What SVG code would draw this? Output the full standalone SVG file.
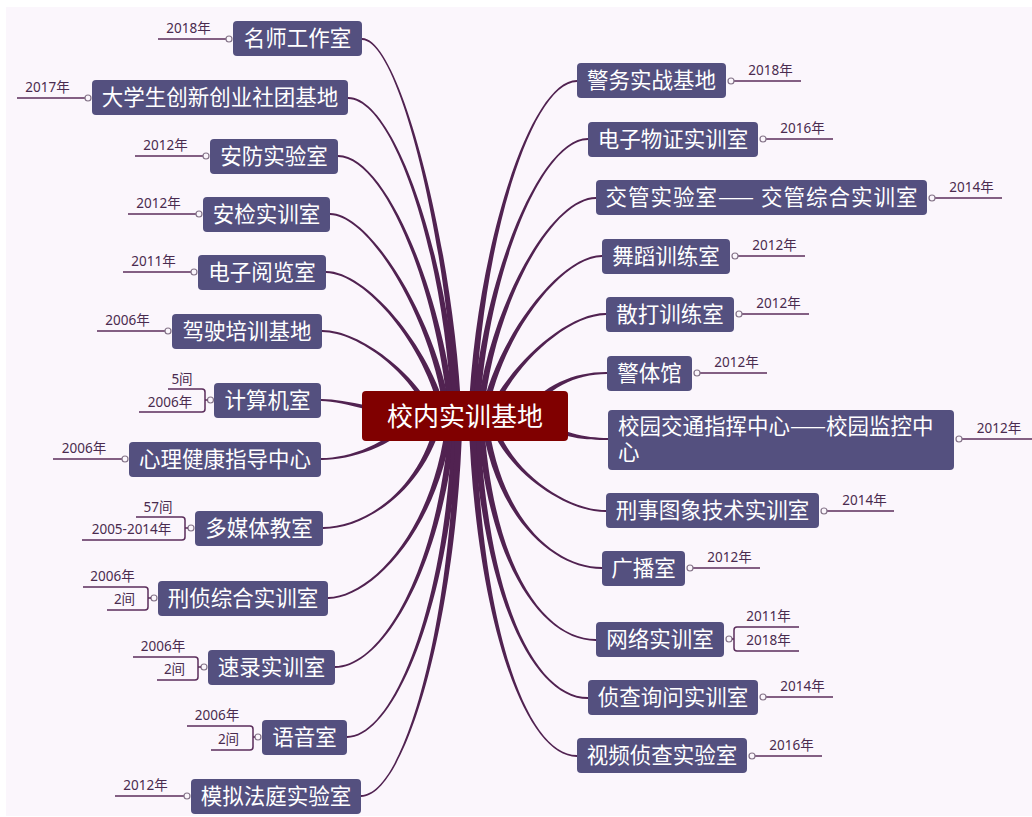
<svg xmlns="http://www.w3.org/2000/svg" width="1032" height="817" viewBox="0 0 1032 817">
<style>
.br{fill:#512251}
.nd{fill:#54507f}
.ct{fill:#800000}
.nt{font-family:"Noto Sans CJK SC","Noto Sans",sans-serif;font-size:21.5px;fill:#ffffff;text-anchor:middle}
.tt{font-family:"Noto Sans CJK SC","Noto Sans",sans-serif;font-size:21.5px;fill:#ffffff}
.cx{font-family:"Noto Sans CJK SC","Noto Sans",sans-serif;font-size:26px;fill:#ffffff;text-anchor:middle}
.dt{font-family:"Noto Sans","Noto Sans CJK SC",sans-serif;font-size:13.5px;fill:#4a2b4f;text-anchor:middle}
.ul{stroke:#5b2d5b;stroke-width:1.5;fill:none}
.dot{fill:#fbf6fc;stroke:#857489;stroke-width:1.2}
</style>
<rect x="0" y="0" width="1032" height="817" fill="#ffffff"/>
<rect x="6" y="7" width="1026" height="809" fill="#fbf6fc"/>
<g id="connectors">
<path class="br" d="M454.5,416 C449.5,250 400,40.2 362,39.9 L362,38.1 C400,37.8 454.5,250 461.5,416 Z"/>
<path class="br" d="M451.5,416 C445.5,260 395,99.2 348,98.9 L348,97.1 C395,96.8 450.5,260 458.5,416 Z"/>
<path class="br" d="M448.5,416 C437.5,290 385,157.2 338,156.9 L338,155.1 C385,154.8 442.5,290 455.5,416 Z"/>
<path class="br" d="M444.5,416 C432.5,320 370,215.2 330,214.9 L330,213.1 C370,212.8 437.5,320 451.5,416 Z"/>
<path class="br" d="M440.5,416 C425.5,345 365,273.2 326,272.9 L326,271.1 C365,270.8 430.5,345 447.5,416 Z"/>
<path class="br" d="M428.5,416 C412.5,375 360,332.2 322,331.9 L322,330.1 C360,329.8 417.5,375 435.5,416 Z"/>
<path class="br" d="M420,419.5 C385,416.5 345,401.3 321,401 L321,399 C345,398.7 385,411.5 420,412.5 Z"/>
<path class="br" d="M417.7,418.3 C391.9,447.6 350,460.2 321,459.9 L321,458.1 C350,457.8 388.1,444.4 412.3,413.7 Z"/>
<path class="br" d="M443.5,416 C426.5,490 365,529.2 323,528.9 L323,527.1 C365,526.8 421.5,490 436.5,416 Z"/>
<path class="br" d="M453.5,416 C440.5,530 370,599.2 328,598.9 L328,597.1 C370,596.8 435.5,530 446.5,416 Z"/>
<path class="br" d="M456.5,416 C445.5,560 385,668.2 335,667.9 L335,666.1 C385,665.8 440.5,560 449.5,416 Z"/>
<path class="br" d="M459.5,416 C452.5,600 395,738.2 347,737.9 L347,736.1 C395,735.8 447.5,600 452.5,416 Z"/>
<path class="br" d="M462.5,416 C457.5,620 405,797.2 361,796.9 L361,795.1 C405,794.8 452.5,620 455.5,416 Z"/>
<path class="br" d="M468.5,416 C475.5,250 530,79.8 577,80.1 L577,81.9 C530,82.2 480.5,250 475.5,416 Z"/>
<path class="br" d="M472.5,416 C481.5,280 540,137.8 588,138.1 L588,139.9 C540,140.2 486.5,280 479.5,416 Z"/>
<path class="br" d="M476.5,416 C487.5,310 550,196.8 596,197.1 L596,198.9 C550,199.2 492.5,310 483.5,416 Z"/>
<path class="br" d="M480.5,416 C494.5,340 560,254.8 602,255.1 L602,256.9 C560,257.2 499.5,340 487.5,416 Z"/>
<path class="br" d="M486.5,416 C504.5,370 565,312.8 606,313.1 L606,314.9 C565,315.2 509.5,370 493.5,416 Z"/>
<path class="br" d="M522.1,414 C542.95,384.6 575,371.8 607,372.1 L607,373.9 C575,374.2 547.05,387.4 527.9,418 Z"/>
<path class="br" d="M531.9,413.1 C561.4,433.9 585,437.8 608,438.1 L608,439.9 C585,440.2 558.6,438.1 528.1,418.9 Z"/>
<path class="br" d="M493.5,416 C507.5,470 565,509.8 606,510.1 L606,511.9 C565,512.2 502.5,470 486.5,416 Z"/>
<path class="br" d="M487.5,416 C499.5,520 555,566.8 602,567.1 L602,568.9 C555,569.2 494.5,520 480.5,416 Z"/>
<path class="br" d="M483.5,416 C492.5,570 545,638.8 596,639.1 L596,640.9 C545,641.2 487.5,570 476.5,416 Z"/>
<path class="br" d="M479.5,416 C486.5,600 535,696.8 588,697.1 L588,698.9 C535,699.2 481.5,600 472.5,416 Z"/>
<path class="br" d="M475.5,416 C480.5,620 525,754.8 577,755.1 L577,756.9 C525,757.2 475.5,620 468.5,416 Z"/>
</g>
<g id="center">
<rect class="ct" x="362" y="391" width="206" height="50" rx="4"/>
<text class="cx" x="465" y="426">校内实训基地</text>
</g>
<g id="n-mingshi">
<rect class="nd" x="233" y="21" width="129" height="35" rx="4"/>
<text class="nt" x="297.5" y="46">名师工作室</text>
<line class="ul" x1="158" y1="39" x2="226" y2="39"/><circle class="dot" cx="229" cy="39" r="3"/>
<text class="dt" x="188.5" y="33">2018年</text>
</g>
<g id="n-daxuesheng">
<rect class="nd" x="92" y="80" width="256" height="35" rx="4"/>
<text class="nt" x="220" y="105">大学生创新创业社团基地</text>
<line class="ul" x1="17" y1="98" x2="85" y2="98"/><circle class="dot" cx="88" cy="98" r="3"/>
<text class="dt" x="47.5" y="92">2017年</text>
</g>
<g id="n-anfang">
<rect class="nd" x="210" y="139" width="128" height="35" rx="4"/>
<text class="nt" x="274" y="164">安防实验室</text>
<line class="ul" x1="135" y1="156" x2="203" y2="156"/><circle class="dot" cx="206" cy="156" r="3"/>
<text class="dt" x="165.5" y="150">2012年</text>
</g>
<g id="n-anjian">
<rect class="nd" x="203" y="197" width="127" height="35" rx="4"/>
<text class="nt" x="266.5" y="222">安检实训室</text>
<line class="ul" x1="128" y1="214" x2="196" y2="214"/><circle class="dot" cx="199" cy="214" r="3"/>
<text class="dt" x="158.5" y="208">2012年</text>
</g>
<g id="n-yuelan">
<rect class="nd" x="198" y="255" width="128" height="35" rx="4"/>
<text class="nt" x="262" y="280">电子阅览室</text>
<line class="ul" x1="123" y1="272" x2="191" y2="272"/><circle class="dot" cx="194" cy="272" r="3"/>
<text class="dt" x="153.5" y="266">2011年</text>
</g>
<g id="n-jiashi">
<rect class="nd" x="172" y="314" width="150" height="35" rx="4"/>
<text class="nt" x="247" y="339">驾驶培训基地</text>
<line class="ul" x1="97" y1="331" x2="165" y2="331"/><circle class="dot" cx="168" cy="331" r="3"/>
<text class="dt" x="127.5" y="325">2006年</text>
</g>
<g id="n-jisuanji">
<rect class="nd" x="214" y="383" width="107" height="35" rx="4"/>
<text class="nt" x="267.5" y="408">计算机室</text>
<circle class="dot" cx="210.5" cy="400" r="3"/>
<path class="ul" d="M207.5,400 H205 M168,389 H202 Q205,389 205,392 V409 Q205,412 202,412 H139"/>
<text class="dt" x="182" y="384">5间</text>
<text class="dt" x="170" y="407">2006年</text>
</g>
<g id="n-xinli">
<rect class="nd" x="129" y="442" width="192" height="35" rx="4"/>
<text class="nt" x="225" y="467">心理健康指导中心</text>
<line class="ul" x1="53" y1="459" x2="122" y2="459"/><circle class="dot" cx="125" cy="459" r="3"/>
<text class="dt" x="84" y="453">2006年</text>
</g>
<g id="n-duomeiti">
<rect class="nd" x="195" y="511" width="128" height="35" rx="4"/>
<text class="nt" x="259" y="536">多媒体教室</text>
<circle class="dot" cx="191" cy="528" r="3"/>
<path class="ul" d="M188,528 H185 M136,517 H182 Q185,517 185,520 V537 Q185,540 182,540 H82"/>
<text class="dt" x="158" y="512">57间</text>
<text class="dt" x="131.5" y="534">2005-2014年</text>
</g>
<g id="n-xingzhen">
<rect class="nd" x="158" y="581" width="170" height="35" rx="4"/>
<text class="nt" x="243" y="606">刑侦综合实训室</text>
<circle class="dot" cx="154" cy="598" r="3"/>
<path class="ul" d="M151,598 H148 M83,587 H145 Q148,587 148,590 V607 Q148,610 145,610 H107"/>
<text class="dt" x="112.5" y="581">2006年</text>
<text class="dt" x="124.5" y="604">2间</text>
</g>
<g id="n-sulu">
<rect class="nd" x="208" y="650" width="127" height="35" rx="4"/>
<text class="nt" x="271.5" y="675">速录实训室</text>
<circle class="dot" cx="204" cy="667" r="3"/>
<path class="ul" d="M201,667 H198 M133,657 H195 Q198,657 198,660 V677 Q198,680 195,680 H157"/>
<text class="dt" x="163" y="651">2006年</text>
<text class="dt" x="174.5" y="674">2间</text>
</g>
<g id="n-yuyin">
<rect class="nd" x="262" y="720" width="85" height="35" rx="4"/>
<text class="nt" x="304.5" y="745">语音室</text>
<circle class="dot" cx="258" cy="737" r="3"/>
<path class="ul" d="M255,737 H253 M187,726 H250 Q253,726 253,729 V747 Q253,750 250,750 H211"/>
<text class="dt" x="217" y="720">2006年</text>
<text class="dt" x="228.5" y="744">2间</text>
</g>
<g id="n-moni">
<rect class="nd" x="191" y="779" width="170" height="35" rx="4"/>
<text class="nt" x="276" y="804">模拟法庭实验室</text>
<line class="ul" x1="115" y1="796" x2="184" y2="796"/><circle class="dot" cx="187" cy="796" r="3"/>
<text class="dt" x="145.5" y="790">2012年</text>
</g>
<g id="n-jingwu">
<rect class="nd" x="577" y="63" width="149" height="35" rx="4"/>
<text class="nt" x="651.5" y="88">警务实战基地</text>
<line class="ul" x1="734" y1="81" x2="801" y2="81"/><circle class="dot" cx="731" cy="81" r="3"/>
<text class="dt" x="770.5" y="75">2018年</text>
</g>
<g id="n-wuzheng">
<rect class="nd" x="588" y="122" width="170" height="35" rx="4"/>
<text class="nt" x="673" y="147">电子物证实训室</text>
<line class="ul" x1="766" y1="139" x2="833" y2="139"/><circle class="dot" cx="763" cy="139" r="3"/>
<text class="dt" x="802.5" y="133">2016年</text>
</g>
<g id="n-jiaoguan">
<rect class="nd" x="596" y="180" width="331" height="35" rx="4"/>
<text class="nt" x="761.5" y="205" textLength="312" lengthAdjust="spacing">交管实验室—— 交管综合实训室</text>
<line class="ul" x1="935" y1="198" x2="1002" y2="198"/><circle class="dot" cx="932" cy="198" r="3"/>
<text class="dt" x="971.5" y="192">2014年</text>
</g>
<g id="n-wudao">
<rect class="nd" x="602" y="239" width="128" height="35" rx="4"/>
<text class="nt" x="666" y="264">舞蹈训练室</text>
<line class="ul" x1="738" y1="256" x2="805" y2="256"/><circle class="dot" cx="735" cy="256" r="3"/>
<text class="dt" x="774.5" y="250">2012年</text>
</g>
<g id="n-sanda">
<rect class="nd" x="606" y="297" width="128" height="35" rx="4"/>
<text class="nt" x="670" y="322">散打训练室</text>
<line class="ul" x1="742" y1="314" x2="809" y2="314"/><circle class="dot" cx="739" cy="314" r="3"/>
<text class="dt" x="778.5" y="308">2012年</text>
</g>
<g id="n-jingti">
<rect class="nd" x="607" y="356" width="85" height="35" rx="4"/>
<text class="nt" x="649.5" y="381">警体馆</text>
<line class="ul" x1="700" y1="373" x2="767" y2="373"/><circle class="dot" cx="697" cy="373" r="3"/>
<text class="dt" x="736.5" y="367">2012年</text>
</g>
<g id="n-xiaoyuan">
<rect class="nd" x="608" y="410" width="346" height="60" rx="4"/>
<text class="tt" x="618" y="434">校园交通指挥中心——校园监控中<tspan x="618" y="460">心</tspan></text>
<line class="ul" x1="962" y1="439" x2="1032" y2="439"/><circle class="dot" cx="959" cy="439" r="3"/>
<text class="dt" x="999" y="433">2012年</text>
</g>
<g id="n-tuxiang">
<rect class="nd" x="606" y="493" width="213" height="35" rx="4"/>
<text class="nt" x="712.5" y="518">刑事图象技术实训室</text>
<line class="ul" x1="827" y1="511" x2="894" y2="511"/><circle class="dot" cx="824" cy="511" r="3"/>
<text class="dt" x="864.5" y="505">2014年</text>
</g>
<g id="n-guangbo">
<rect class="nd" x="602" y="551" width="83" height="35" rx="4"/>
<text class="nt" x="643.5" y="576">广播室</text>
<line class="ul" x1="693" y1="568" x2="760" y2="568"/><circle class="dot" cx="690" cy="568" r="3"/>
<text class="dt" x="729.5" y="562">2012年</text>
</g>
<g id="n-wangluo">
<rect class="nd" x="596" y="622" width="128" height="35" rx="4"/>
<text class="nt" x="660" y="647">网络实训室</text>
<circle class="dot" cx="729" cy="639" r="3"/>
<path class="ul" d="M732,639 H734 M799,627 H737 Q734,627 734,630 V648 Q734,651 737,651 H799"/>
<text class="dt" x="768.5" y="621">2011年</text>
<text class="dt" x="768.5" y="645">2018年</text>
</g>
<g id="n-zhencha">
<rect class="nd" x="588" y="680" width="170" height="35" rx="4"/>
<text class="nt" x="673" y="705">侦查询问实训室</text>
<line class="ul" x1="766" y1="697" x2="833" y2="697"/><circle class="dot" cx="763" cy="697" r="3"/>
<text class="dt" x="802.5" y="691">2014年</text>
</g>
<g id="n-shipin">
<rect class="nd" x="577" y="738" width="170" height="35" rx="4"/>
<text class="nt" x="662" y="763">视频侦查实验室</text>
<line class="ul" x1="755" y1="756" x2="822" y2="756"/><circle class="dot" cx="752" cy="756" r="3"/>
<text class="dt" x="791.5" y="750">2016年</text>
</g>
</svg>
